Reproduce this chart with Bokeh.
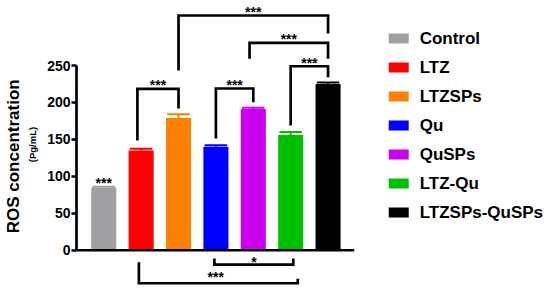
from bokeh.plotting import figure
from bokeh.models import ColumnDataSource, LinearAxis, FixedTicker, Range1d
from bokeh.core.properties import value
from bokeh.embed import file_html
from bokeh.resources import INLINE

# ---- data ----
categories = ["Control", "LTZ", "LTZSPs", "Qu", "QuSPs", "LTZ-Qu", "LTZSPs-QuSPs"]
means = [85, 135, 179, 140, 191, 156, 225]
errors = [1, 2.5, 5, 2, 2, 4, 2]
colors = ["#A0A0A4", "#FF0000", "#FF8000", "#0000FF", "#CC00EE", "#00C000", "#000000"]
y_ticks = [0, 50, 100, 150, 200, 250]

# significance brackets: (left group, right group, label)
top_pairs = [("LTZ", "LTZSPs", "***"), ("Qu", "QuSPs", "***"), ("LTZ-Qu", "LTZSPs-QuSPs", "***"),
             ("QuSPs", "LTZSPs-QuSPs", "***"), ("LTZSPs", "LTZSPs-QuSPs", "***")]
bottom_pairs = [("Qu", "LTZ-Qu", "*"), ("LTZ", "LTZ-Qu", "***")]

# ---- layout constants ----
FONT = "Liberation Sans"
idx = list(range(len(categories)))
pos = {c: i for i, c in enumerate(categories)}

p = figure(width=550, height=288, output_backend="svg", toolbar_location=None,
           x_range=Range1d(-0.729, 11.95), y_range=Range1d(-51.8, 338.0),
           x_axis_location=None, min_border_left=72, min_border_right=0,
           min_border_top=0, min_border_bottom=0)
p.outline_line_color = None
p.grid.visible = False
p.background_fill_color = "white"
p.border_fill_color = "white"

src = ColumnDataSource(dict(x=idx, top=means, err=errors, color=colors,
                            up=[m + e for m, e in zip(means, errors)],
                            cl=[i - 0.3 for i in idx], cr=[i + 0.3 for i in idx]))
p.vbar(x="x", top="top", bottom=0, width=0.67, fill_color="color", line_color=None, source=src)
p.segment(x0="x", y0="top", x1="x", y1="up", line_color="color", line_width=2, source=src)
p.segment(x0="cl", y0="up", x1="cr", y1="up", line_color="color", line_width=2, source=src)

# x axis line
p.segment(x0=[-0.729], y0=[0], x1=[6.70], y1=[0], line_color="black", line_width=2.7)

# y axis styling
ya = p.yaxis[0]
ya.ticker = FixedTicker(ticks=y_ticks)
ya.bounds = (0, 250)
ya.axis_line_width = 2.7
ya.major_tick_line_width = 2.7
ya.major_tick_out = 5
ya.major_tick_in = 0
ya.minor_tick_line_color = None
ya.major_label_standoff = 1
ya.major_label_text_font = FONT
ya.major_label_text_font_style = "bold"
ya.major_label_text_font_size = "14px"
ya.major_label_text_color = "black"
ya.axis_label = "(Pg/mL)"
ya.axis_label_text_font = FONT
ya.axis_label_text_font_style = "bold"
ya.axis_label_text_font_size = "9.5px"
ya.axis_label_standoff = 6
ya.axis_label_text_color = "black"

ax2 = LinearAxis(ticker=FixedTicker(ticks=[]), axis_label="ROS concentration" + "\u00a0" * 5,
                 axis_line_color=None, major_tick_line_color=None, minor_tick_line_color=None,
                 major_label_text_font_size="0px", major_tick_out=0, major_tick_in=0,
                 major_label_standoff=0, axis_label_standoff=2,
                 axis_label_text_font=FONT, axis_label_text_font_style="bold",
                 axis_label_text_font_size="17px", axis_label_text_color="black")
p.add_layout(ax2, "left")

# brackets above (heights/offsets are layout)
top_geom = [(-0.1, 0.0, 218.5, 148.5, 191.8), (0.0, 0.0, 218.9, 151.2, 200.3),
            (0.0, 0.0, 249.0, 168.8, 234.2), (-0.1, 0.0, 280.7, 259.0, 259.0),
            (0.0, 0.0, 317.7, 243.2, 293.2)]
xs, ys, lx, ly, lt = [], [], [], [], []
for (a, b, lab), (oa, ob, h, ha, hb) in zip(top_pairs, top_geom):
    x1, x2 = pos[a] + oa, pos[b] + ob
    xs.append([x1, x1, x2, x2]); ys.append([ha, h, h, hb])
    lx.append((x1 + x2) / 2); ly.append(h); lt.append(lab)
p.multi_line(xs=xs, ys=ys, line_color="black", line_width=2.7, line_join="miter")
p.text(x=lx, y=ly, text=lt, text_align="center", text_baseline="alphabetic", y_offset=-3.5,
       text_font=value(FONT), text_font_style="bold", text_font_size="14px", text_color="black")

# brackets below
bot_geom = [(-0.04, 0.07, -19.4, -11.3, -11.3, 0.0), (-0.06, 0.19, -44.7, -16.2, -38.7, -0.07)]
xs, ys, lx, lt = [], [], [], []
for (a, b, lab), (oa, ob, h, ha, hb, lo) in zip(bottom_pairs, bot_geom):
    x1, x2 = pos[a] + oa, pos[b] + ob
    xs.append([x1, x1, x2, x2]); ys.append([ha, h, h, hb])
    lx.append((x1 + x2) / 2 + lo); lt.append(lab)
ly = [-15.4, -35.6]
p.multi_line(xs=xs, ys=ys, line_color="black", line_width=2.7, line_join="miter")
p.text(x=lx, y=ly, text=lt, text_align="center", text_baseline="alphabetic",
       text_font=value(FONT), text_font_style="bold", text_font_size="14px", text_color="black")

# asterisks over control
p.text(x=[pos["Control"]], y=[means[0]], text=["***"], text_align="center",
       text_baseline="alphabetic", y_offset=-4,
       text_font=value(FONT), text_font_style="bold", text_font_size="14px", text_color="black")

# legend drawn in plot space
leg_x = [7.89] * len(categories)
leg_y = [286.5 - 39.25 * i for i in idx]
p.rect(x=leg_x, y=leg_y, width=20, height=10, width_units="screen", height_units="screen",
       fill_color=colors, line_color=None)
p.text(x=[8.45] * len(categories), y=leg_y, text=categories, text_align="left",
       text_baseline="middle", text_font=value(FONT), text_font_style="bold",
       text_font_size="17px", text_color="black")

open("out.html", "w").write(file_html(p, INLINE))
